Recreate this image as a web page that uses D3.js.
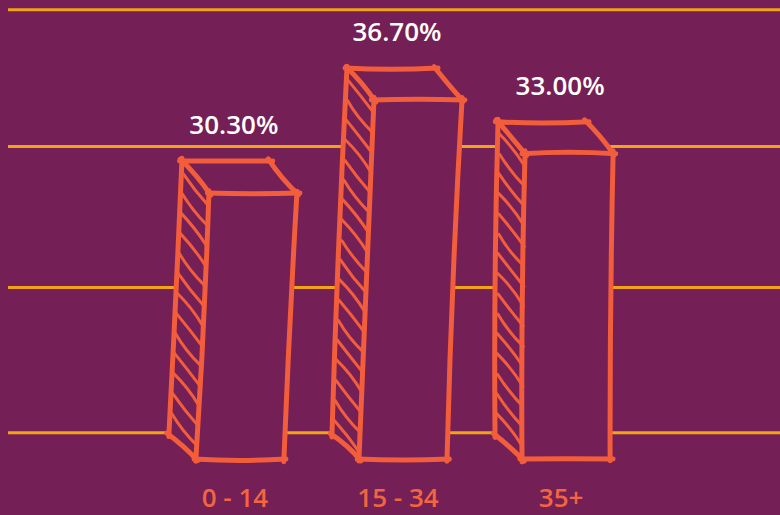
<!DOCTYPE html>
<html>
<head>
<meta charset="utf-8">
<script src="https://cdn.jsdelivr.net/npm/d3@7"></script>
<style>
html, body { margin: 0; padding: 0; background: #741f56; }
svg { display: block; }
</style>
</head>
<body>
<svg id="app" width="780" height="515"></svg>
<script>
// data
const categories = ['0 - 14', '15 - 34', '35+']
const shares = [30.3, 36.7, 33.0]
const valueLabels = ['30.30%', '36.70%', '33.00%']
const gridValues = [13.8, 23.8, 33.5, 42.9]

const bg = '#741f56'
const gold = '#f2a414'
const pen = '#f25d3c'
const labelColor = '#f2663f'

// sketch style: how far the box goes back, and how much each bar leans
const depth = [-27, -32]
const lean = [13, 15, 3]

let svg = d3.select('#app')

const x = d3.scaleBand()
  .domain(categories)
  .range([98, 708])
  .paddingInner(0.46)
  .paddingOuter(0.6)

const y = d3.scaleLinear()
  .domain([12, 40])
  .range([459, 52])

const base = y(y.domain()[0])

// hand drawn edge: slight bow + overshoot at the ends
function sketch(a, b, k) {
  const dx = b[0] - a[0], dy = b[1] - a[1]
  const len = Math.hypot(dx, dy) || 1
  const ux = dx / len, uy = dy / len
  const nx = -uy, ny = ux
  const o1 = 1.5 + 1.5 * Math.abs(Math.sin(k * 2.3))
  const o2 = 1.5 + 1.5 * Math.abs(Math.cos(k * 1.9))
  const bow = 3 * Math.sin(k * 1.7 + 0.5)
  const p0 = [a[0] - ux * o1, a[1] - uy * o1]
  const p2 = [b[0] + ux * o2, b[1] + uy * o2]
  const m = [(a[0] + b[0]) / 2 + nx * bow, (a[1] + b[1]) / 2 + ny * bow]
  return `M${p0[0]},${p0[1]} Q${m[0]},${m[1]} ${p2[0]},${p2[1]}`
}

// grid lines
svg.append('g')
  .selectAll('line')
  .data(gridValues)
  .enter()
  .append('line')
  .attr('x1', 8)
  .attr('x2', 780)
  .attr('y1', d => y(d))
  .attr('y2', d => y(d))
  .attr('stroke', gold)
  .attr('stroke-width', 3)

let bars = categories.map((c, i) => {
  const x0 = x(c)
  const w = x.bandwidth()
  const top = y(shares[i])
  const l = lean[i]
  const fbl = [x0, base]
  const fbr = [x0 + w, base]
  const ftl = [x0 + l, top]
  const ftr = [x0 + w + l, top]
  const btl = [ftl[0] + depth[0], ftl[1] + depth[1]]
  const btr = [ftr[0] + depth[0], ftr[1] + depth[1]]
  const bbl = [fbl[0] + depth[0], fbl[1] + depth[1] + 8]
  return {c, i, fbl, fbr, ftl, ftr, btl, btr, bbl, top}
})

let barG = svg.append('g')

bars.forEach(b => {
  const g = barG.append('g')

  g.append('path')
    .attr('d', 'M' + [b.btl, b.btr, b.ftr, b.fbr, b.fbl, b.bbl].map(p => p.join(',')).join('L') + 'Z')
    .attr('fill', bg)

  // hatching on the side face
  const hatch = []
  const backLen = b.bbl[1] - b.btl[1]
  for (let yy = b.btl[1] + 12; yy < b.bbl[1] - 4; yy += 20) {
    const t = (yy - b.btl[1]) / backLen
    const px = b.btl[0] + (b.bbl[0] - b.btl[0]) * t
    const s = [px + 3, yy + 2]
    const e = [px - depth[0] * 0.9 + 1, yy - depth[1] * 0.95]
    if (e[1] > b.fbl[1] - 2) continue
    hatch.push([s, e])
  }
  g.selectAll('path.hatch')
    .data(hatch)
    .enter()
    .append('path')
    .attr('class', 'hatch')
    .attr('d', (d, j) => sketch(d[0], d[1], j + b.i * 7))
    .attr('stroke', pen)
    .attr('stroke-width', 3)
    .attr('stroke-linecap', 'round')
    .attr('fill', 'none')

  const edges = [
    [b.ftl, b.ftr], [b.ftr, b.fbr], [b.fbr, b.fbl], [b.fbl, b.ftl],
    [b.btl, b.btr], [b.btl, b.ftl], [b.btr, b.ftr],
    [b.btl, b.bbl], [b.bbl, b.fbl]
  ]
  g.selectAll('path.edge')
    .data(edges)
    .enter()
    .append('path')
    .attr('class', 'edge')
    .attr('d', (d, j) => sketch(d[0], d[1], j * 1.3 + b.i * 3.1))
    .attr('stroke', pen)
    .attr('stroke-width', 5)
    .attr('stroke-linecap', 'round')
    .attr('stroke-linejoin', 'round')
    .attr('fill', 'none')
})

// value labels
svg.append('g')
  .selectAll('text')
  .data(bars)
  .enter()
  .append('text')
  .attr('x', d => x(d.c) + x.bandwidth() / 2 - 6)
  .attr('y', d => d.top - 68)
  .attr('dy', '0.35em')
  .attr('text-anchor', 'middle')
  .attr('font-family', '"Open Sans", sans-serif')
  .attr('font-weight', 600)
  .attr('font-size', 26)
  .attr('fill', '#ffffff')
  .text(d => valueLabels[d.i])

// category labels
svg.append('g')
  .selectAll('text')
  .data(categories)
  .enter()
  .append('text')
  .attr('x', d => x(d) + x.bandwidth() / 2 - 5)
  .attr('y', 498)
  .attr('dy', '0.35em')
  .attr('text-anchor', 'middle')
  .attr('font-family', '"Open Sans", sans-serif')
  .attr('font-weight', 600)
  .attr('font-size', 26)
  .attr('fill', labelColor)
  .text(d => d)
</script>
</body>
</html>
